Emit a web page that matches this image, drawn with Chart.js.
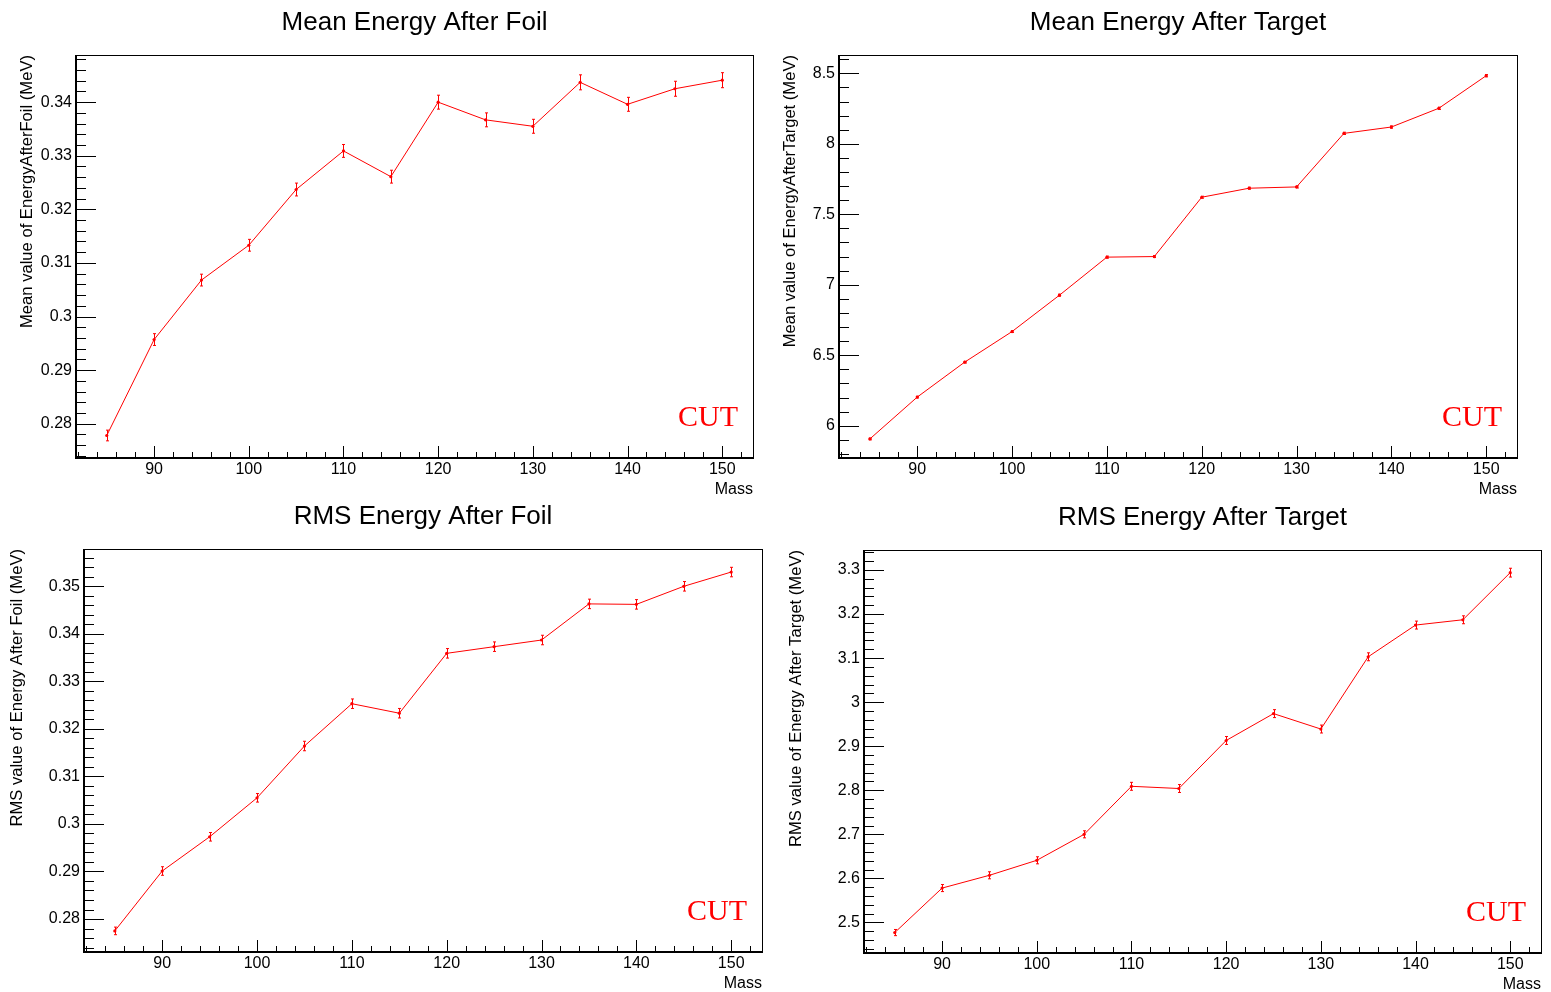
<!DOCTYPE html>
<html>
<head>
<meta charset="utf-8">
<title>Energy vs Mass</title>
<script src="https://cdn.jsdelivr.net/npm/chart.js@4.4.1/dist/chart.umd.min.js"></script>
<style>
  html, body { margin: 0; padding: 0; background: #fff; }
  body { width: 1551px; height: 992px; position: relative; overflow: hidden; }
  canvas { position: absolute; }
</style>
</head>
<body>
<canvas id="meanFoilChart" width="775" height="496" style="left:0;top:0"></canvas>
<canvas id="meanTargetChart" width="776" height="496" style="left:775px;top:0"></canvas>
<canvas id="rmsFoilChart" width="775" height="496" style="left:0;top:496px"></canvas>
<canvas id="rmsTargetChart" width="776" height="496" style="left:775px;top:496px"></canvas>
<script>
// mass points and measured energies (MeV)
const mass = [85, 90, 95, 100, 105, 110, 115, 120, 125, 130, 135, 140, 145, 150];

const meanFoil = [0.2778, 0.2957, 0.3068, 0.3133, 0.3237, 0.3309, 0.3261, 0.3400, 0.3367, 0.3355, 0.3437, 0.3396, 0.3425, 0.3441];
const meanFoilErr = [0.0010, 0.0011, 0.0011, 0.0011, 0.0012, 0.0012, 0.0012, 0.0013, 0.0013, 0.0013, 0.0014, 0.0013, 0.0014, 0.0014];

const meanTarget = [5.906, 6.203, 6.451, 6.668, 6.926, 7.196, 7.200, 7.621, 7.685, 7.694, 8.074, 8.119, 8.252, 8.483];
const meanTargetErr = [0.006, 0.006, 0.006, 0.006, 0.007, 0.007, 0.007, 0.007, 0.007, 0.007, 0.008, 0.008, 0.008, 0.008];

const rmsFoil = [0.2775, 0.2901, 0.2973, 0.3055, 0.3164, 0.3253, 0.3233, 0.3359, 0.3373, 0.3387, 0.3463, 0.3462, 0.3500, 0.3530];
const rmsFoilErr = [0.0008, 0.0009, 0.0009, 0.0009, 0.0010, 0.0010, 0.0010, 0.0010, 0.0010, 0.0010, 0.0010, 0.0010, 0.0010, 0.0010];

const rmsTarget = [2.477, 2.578, 2.607, 2.641, 2.700, 2.809, 2.804, 2.913, 2.974, 2.939, 3.103, 3.175, 3.187, 3.294];
const rmsTargetErr = [0.007, 0.008, 0.008, 0.008, 0.008, 0.009, 0.009, 0.009, 0.009, 0.009, 0.009, 0.009, 0.009, 0.010];

// tick labels
const xTicks = [90, 100, 110, 120, 130, 140, 150];
const meanFoilTicks = [0.28, 0.29, 0.30, 0.31, 0.32, 0.33, 0.34];
const meanTargetTicks = [6, 6.5, 7, 7.5, 8, 8.5];
const rmsFoilTicks = [0.28, 0.29, 0.30, 0.31, 0.32, 0.33, 0.34, 0.35];
const rmsTargetTicks = [2.5, 2.6, 2.7, 2.8, 2.9, 3.0, 3.1, 3.2, 3.3];

const RED = '#ff0000';
const SANS = '"Liberation Sans", Arial, Helvetica, sans-serif';
const SERIF = '"Liberation Serif", "Times New Roman", serif';

// draws frame, inner ticks, error bars and the pad texts
const rootPad = {
    id: 'rootPad',
    afterDatasetsDraw(chart, args, opts) {
        const ctx = chart.ctx;
        const xs = chart.scales.x, ys = chart.scales.y;
        ctx.save();
        ctx.strokeStyle = RED;
        ctx.lineWidth = 1;
        chart.data.datasets[0].data.forEach((p, i) => {
            const px = Math.round(xs.getPixelForValue(p.x)) + 0.5;
            const lo = ys.getPixelForValue(p.y - opts.errors[i]);
            const hi = ys.getPixelForValue(p.y + opts.errors[i]);
            ctx.beginPath();
            ctx.moveTo(px, lo); ctx.lineTo(px, hi);
            ctx.moveTo(px - 1.5, lo); ctx.lineTo(px + 1.5, lo);
            ctx.moveTo(px - 1.5, hi); ctx.lineTo(px + 1.5, hi);
            ctx.stroke();
        });
        ctx.restore();
    },
    afterDraw(chart, args, opts) {
        const ctx = chart.ctx;
        const a = chart.chartArea;
        const xs = chart.scales.x, ys = chart.scales.y;
        ctx.save();

        // frame
        ctx.strokeStyle = '#000';
        ctx.lineWidth = 1;
        ctx.strokeRect(Math.round(a.left) + 0.5, Math.round(a.top) + 0.5,
            Math.round(a.right - a.left), Math.round(a.bottom - a.top));
        ctx.lineWidth = 2;
        ctx.beginPath();
        ctx.moveTo(Math.round(a.left), Math.round(a.top));
        ctx.lineTo(Math.round(a.left), Math.round(a.bottom));
        ctx.lineTo(Math.round(a.right), Math.round(a.bottom));
        ctx.stroke();

        // ticks drawn inside the frame
        ctx.lineWidth = 1;
        ctx.beginPath();
        const near = (v, list, step) => list.some(t => Math.abs(t - v) < step / 10);
        const eachStep = (min, max, step, fn) => {
            for (let k = Math.ceil(min / step - 1e-9); k * step <= max + 1e-9; k++) fn(k * step);
        };
        eachStep(xs.min, xs.max, opts.xMinor, v => {
            const len = near(v, xTicks, opts.xMinor) ? 12 : 6;
            const px = Math.round(xs.getPixelForValue(v)) + 0.5;
            ctx.moveTo(px, a.bottom);
            ctx.lineTo(px, a.bottom - len);
        });
        eachStep(ys.min, ys.max, opts.yMinor, v => {
            const len = near(v, opts.yTicks, opts.yMinor) ? 20 : 10;
            const py = Math.round(ys.getPixelForValue(v)) + 0.5;
            ctx.moveTo(a.left, py);
            ctx.lineTo(a.left + len, py);
        });
        ctx.stroke();

        // pad title
        ctx.fillStyle = '#000';
        ctx.font = '26px ' + SANS;
        ctx.textAlign = 'center';
        ctx.textBaseline = 'alphabetic';
        ctx.fillText(opts.title, (a.left + a.right) / 2, a.top - 25.5);

        // x axis title
        ctx.font = '16px ' + SANS;
        ctx.textAlign = 'right';
        ctx.fillText('Mass', a.right, a.bottom + 35.5);

        // y axis title, top aligned
        ctx.save();
        ctx.translate(a.left + opts.yTitleOffset, a.top);
        ctx.rotate(-Math.PI / 2);
        ctx.textAlign = 'right';
        ctx.font = '16.6px ' + SANS;
        ctx.fillText(opts.yTitle, 0, 0);
        ctx.restore();

        // CUT label
        ctx.fillStyle = RED;
        ctx.font = '30px ' + SERIF;
        ctx.textAlign = 'right';
        ctx.fillText('CUT', a.right - 15, a.bottom - 32);

        ctx.restore();
    }
};

function buildChart(canvasId, values, errors, cfg) {
    const ctx = document.getElementById(canvasId);
    return new Chart(ctx, {
        type: 'scatter',
        data: {
            datasets: [{
                data: mass.map((m, i) => ({ x: m, y: values[i] })),
                showLine: true,
                borderColor: RED,
                borderWidth: 1,
                tension: 0,
                pointRadius: 1.6,
                pointStyle: 'circle',
                pointBackgroundColor: RED,
                pointBorderWidth: 0
            }]
        },
        options: {
            responsive: false,
            animation: false,
            events: [],
            layout: { padding: { top: cfg.area.top, right: cfg.area.right, left: 0, bottom: 0 } },
            plugins: {
                legend: { display: false },
                tooltip: { enabled: false },
                title: { display: false },
                rootPad: {
                    errors: errors,
                    title: cfg.title,
                    yTitle: cfg.yTitle,
                    yTitleOffset: cfg.yTitleOffset,
                    yTicks: cfg.yTicks,
                    yMinor: cfg.yMinor,
                    xMinor: 2
                }
            },
            scales: {
                x: {
                    type: 'linear',
                    min: 81.75,
                    max: 153.25,
                    grid: { display: false, drawTicks: false },
                    border: { display: false },
                    afterFit: s => { s.height = cfg.area.bottom; },
                    afterBuildTicks: s => { s.ticks = xTicks.map(v => ({ value: v })); },
                    ticks: {
                        autoSkip: false,
                        maxRotation: 0,
                        padding: 2,
                        color: '#000',
                        font: { family: SANS, size: 16 },
                        callback: v => String(+v.toFixed(4))
                    }
                },
                y: {
                    type: 'linear',
                    min: cfg.yMin,
                    max: cfg.yMax,
                    grid: { display: false, drawTicks: false },
                    border: { display: false },
                    afterFit: s => { s.width = cfg.area.left; },
                    afterBuildTicks: s => { s.ticks = cfg.yTicks.map(v => ({ value: v })); },
                    ticks: {
                        autoSkip: false,
                        padding: 4,
                        color: '#000',
                        font: { family: SANS, size: 16 },
                        callback: v => String(+v.toFixed(4))
                    }
                }
            }
        },
        plugins: [rootPad]
    });
}

buildChart('meanFoilChart', meanFoil, meanFoilErr, {
    title: 'Mean Energy After Foil',
    yTitle: 'Mean value of EnergyAfterFoil (MeV)',
    yTitleOffset: -44,
    yMin: 0.2736, yMax: 0.3488,
    yTicks: meanFoilTicks, yMinor: 0.002,
    area: { left: 76, top: 55, right: 22, bottom: 38 }
});

buildChart('meanTargetChart', meanTarget, meanTargetErr, {
    title: 'Mean Energy After Target',
    yTitle: 'Mean value of EnergyAfterTarget (MeV)',
    yTitleOffset: -44,
    yMin: 5.771, yMax: 8.63,
    yTicks: meanTargetTicks, yMinor: 0.1,
    area: { left: 64, top: 55, right: 34, bottom: 38 }
});

buildChart('rmsFoilChart', rmsFoil, rmsFoilErr, {
    title: 'RMS Energy After Foil',
    yTitle: 'RMS value of Energy After Foil (MeV)',
    yTitleOffset: -62.5,
    yMin: 0.27306, yMax: 0.35785,
    yTicks: rmsFoilTicks, yMinor: 0.002,
    area: { left: 84, top: 53, right: 13, bottom: 40 }
});

buildChart('rmsTargetChart', rmsTarget, rmsTargetErr, {
    title: 'RMS Energy After Target',
    yTitle: 'RMS value of Energy After Target (MeV)',
    yTitleOffset: -63,
    yMin: 2.4306, yMax: 3.3454,
    yTicks: rmsTargetTicks, yMinor: 0.02,
    area: { left: 89, top: 54, right: 10, bottom: 39 }
});
</script>
</body>
</html>
